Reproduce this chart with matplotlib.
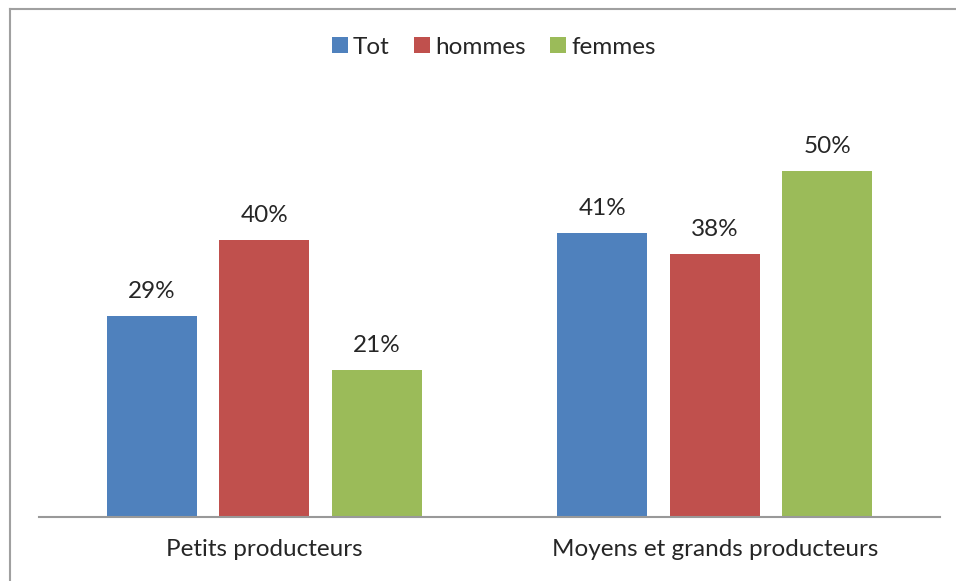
import matplotlib.pyplot as plt
from matplotlib.patches import Patch
from matplotlib.lines import Line2D
import numpy as np

categories = ["Petits producteurs", "Moyens et grands producteurs"]
series_names = ["Tot", "hommes", "femmes"]
tot = [0.29, 0.41]
hommes = [0.40, 0.38]
femmes = [0.213, 0.50]

colors = ["#4F81BD", "#C0504D", "#9BBB59"]
text_color = "#262626"
fs = 17.5

plt.rcParams["font.family"] = ["Lato", "DejaVu Sans"]

fig = plt.figure(figsize=(9.56, 5.81), dpi=100)
ax = fig.add_axes([39 / 956, 64 / 581, 901 / 956, 415 / 581])

x = np.arange(len(categories))
width = 0.2
for i, (vals, name) in enumerate(zip([tot, hommes, femmes], series_names)):
    bars = ax.bar(x + (i - 1) * 0.25, vals, width, color=colors[i], label=name)
    for b, v in zip(bars, vals):
        ax.annotate(
            f"{v:.0%}",
            (b.get_x() + b.get_width() / 2, v),
            xytext=(0, 13),
            textcoords="offset points",
            ha="center",
            va="baseline",
            fontsize=fs,
            color=text_color,
        )

ax.set_xlim(-0.5, 1.5)
ax.set_ylim(0, 0.6)
ax.set_xticks(x)
ax.set_xticklabels(categories, fontsize=fs, color=text_color)
ax.set_yticks([])
ax.tick_params(axis="x", length=0, pad=16)
for side in ["top", "right", "left"]:
    ax.spines[side].set_visible(False)
ax.spines["bottom"].set_color("#999999")
ax.spines["bottom"].set_linewidth(1.5)

handles = [Patch(facecolor=c) for c in colors]
fig.legend(
    handles,
    series_names,
    loc="center",
    bbox_to_anchor=(494 / 956, 1 - 47 / 581),
    ncol=3,
    frameon=False,
    fontsize=fs,
    handlelength=0.66,
    handleheight=0.66,
    handletextpad=0.22,
    columnspacing=1.0,
    labelcolor=text_color,
)

# chart border (top and left edges visible)
fig.add_artist(Line2D([9.5 / 956, 1], [1 - 8.5 / 581, 1 - 8.5 / 581],
                      transform=fig.transFigure, color="#A0A0A0", lw=1.5))
fig.add_artist(Line2D([9.5 / 956, 9.5 / 956], [0, 1 - 8.5 / 581],
                      transform=fig.transFigure, color="#A0A0A0", lw=1.5))

fig.savefig("out.png", dpi=100)
